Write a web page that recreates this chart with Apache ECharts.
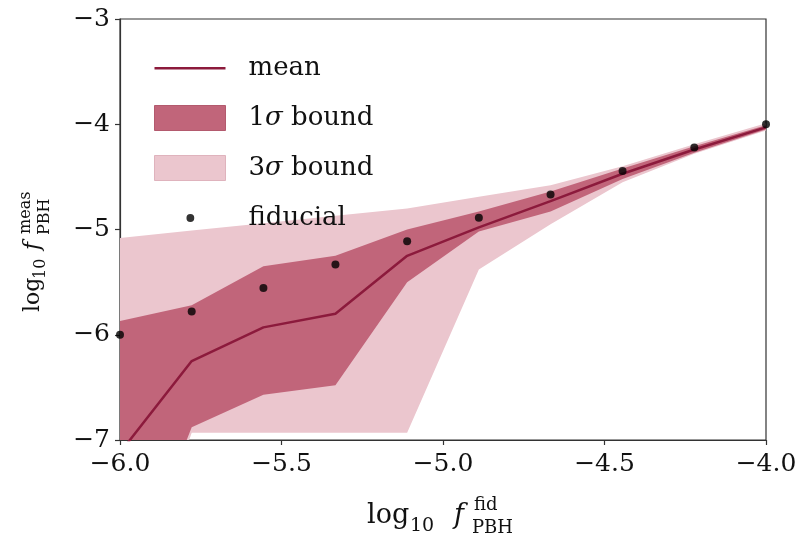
<!DOCTYPE html>
<html>
<head>
<meta charset="utf-8">
<script src="https://cdn.jsdelivr.net/npm/echarts@6/dist/echarts.min.js"></script>
<style>
  html, body { margin: 0; padding: 0; background: #fff; }
  #chart { width: 804px; height: 537px; }
</style>
</head>
<body>
<div id="chart"></div>
<script>
// fiducial log10 f_PBH values (x) and what was measured
const xFid = [-6.0, -5.778, -5.556, -5.333, -5.111, -4.889, -4.667, -4.444, -4.222, -4.0];
const yFid = [-6.0, -5.778, -5.556, -5.333, -5.111, -4.889, -4.667, -4.444, -4.222, -4.0];
const yMean = [-7.12, -6.25, -5.93, -5.80, -5.25, -4.98, -4.73, -4.47, -4.24, -4.03];
const sig1Upper = [-5.87, -5.72, -5.35, -5.25, -5.00, -4.83, -4.64, -4.42, -4.21, -4.01];
const sig1Lower = [-8.6, -6.88, -6.57, -6.48, -5.50, -5.02, -4.83, -4.52, -4.27, -4.05];
const sig3Upper = [-5.08, -5.01, -4.94, -4.87, -4.80, -4.69, -4.58, -4.40, -4.19, -3.99];
const sig3Lower = [-8.9, -6.93, -6.93, -6.93, -6.93, -5.38, -4.95, -4.55, -4.28, -4.06];

const SERIF = "'DejaVu Serif', 'Liberation Serif', serif";
const MEAN_COLOR = '#8c1a3c';
const SIG1_COLOR = '#c1657a';
const SIG3_COLOR = '#ebc6ce';

// legend icons (the corner dots keep the aspect box)
const LINE_ICON = 'path://M0,0L0.01,0ZM100,35L99.99,35ZM0,16H100V19.5H0Z';
const DOT_ICON = 'path://M0,0L0.01,0ZM100,35L99.99,35ZM45,17.5a5.5,5.5 0 1,0 11,0a5.5,5.5 0 1,0 -11,0Z';

function minus(s) {
  return String(s).replace('-', '\u2212');
}

function band(upper, lower, color) {
  return function (params, api) {
    if (params.dataIndex !== 0) return null;
    const pts = [];
    for (let i = 0; i < xFid.length; i++) pts.push(api.coord([xFid[i], upper[i]]));
    for (let i = xFid.length - 1; i >= 0; i--) pts.push(api.coord([xFid[i], lower[i]]));
    return { type: 'polygon', shape: { points: pts }, style: { fill: color } };
  };
}

function txt(text, x, y, size, italic) {
  return {
    type: 'text', x: x, y: y,
    style: {
      text: text, fontFamily: SERIF, fontSize: size,
      fontStyle: italic ? 'italic' : 'normal',
      fill: '#111', align: 'left', verticalAlign: 'middle'
    }
  };
}

const chart = echarts.init(document.getElementById('chart'));

chart.setOption({
  animation: false,
  grid: {
    left: 120, right: 38, top: 19, bottom: 97,
    show: true, borderColor: '#333', borderWidth: 1.2
  },
  legend: {
    orient: 'vertical',
    left: 149,
    top: 50,
    itemWidth: 71,
    itemHeight: 25,
    itemGap: 24,
    selectedMode: false,
    textStyle: {
      fontFamily: SERIF, fontSize: 26, color: '#111', lineHeight: 25,
      rich: {
        g: { width: 18 },
        s: { fontFamily: SERIF, fontSize: 26, fontStyle: 'italic', color: '#111' }
      }
    },
    formatter: function (name) {
      return '{g|\u00a0}' + name.replace('σ', '{s|σ}');
    },
    data: [
      { name: 'mean', icon: LINE_ICON, itemStyle: { color: MEAN_COLOR, borderWidth: 0 } },
      { name: '1σ bound', icon: 'rect', itemStyle: { color: SIG1_COLOR, borderColor: '#b35a6e', borderWidth: 1 } },
      { name: '3σ bound', icon: 'rect', itemStyle: { color: SIG3_COLOR, borderColor: '#dfb3bd', borderWidth: 1 } },
      { name: 'fiducial', icon: DOT_ICON, itemStyle: { color: '#000', borderWidth: 0 } }
    ]
  },
  xAxis: {
    type: 'value',
    min: -6, max: -4, interval: 0.5,
    axisLine: { show: true, onZero: false, lineStyle: { color: '#333', width: 1.2 } },
    axisTick: { show: true, length: 5, lineStyle: { color: '#333', width: 1.2 } },
    axisLabel: {
      margin: 12, fontFamily: SERIF, fontSize: 25, color: '#111',
      formatter: function (v) { return minus(v.toFixed(1)); }
    },
    splitLine: { show: false }
  },
  yAxis: {
    type: 'value',
    min: -7, max: -3, interval: 1,
    axisLine: { show: true, onZero: false, lineStyle: { color: '#333', width: 1.2 } },
    axisTick: { show: true, length: 5, lineStyle: { color: '#333', width: 1.2 } },
    axisLabel: {
      margin: 10, fontFamily: SERIF, fontSize: 25, color: '#111',
      formatter: function (v) { return minus(v); }
    },
    splitLine: { show: false }
  },
  graphic: [
    {
      type: 'group', x: 0, y: 0, silent: true,
      children: [
        txt('log', 367, 516, 27, false),
        txt('10', 410, 526, 19, false),
        txt('f', 454, 516, 27, true),
        txt('fid', 474, 505, 18, false),
        txt('PBH', 472, 528, 18, false)
      ]
    },
    {
      type: 'group', x: 40, y: 312, rotation: Math.PI / 2, silent: true,
      children: [
        txt('log', 0, -7, 22, false),
        txt('10', 33, 1, 16, false),
        txt('f', 62, -7, 22, true),
        txt('meas', 78, -14, 16, false),
        txt('PBH', 77, 5, 16, false)
      ]
    }
  ],
  series: [
    {
      name: '3σ bound',
      type: 'custom',
      clip: true,
      z: 1,
      itemStyle: { color: SIG3_COLOR },
      data: xFid.map((x, i) => [x, sig3Lower[i], sig3Upper[i]]),
      encode: { x: 0, y: [1, 2] },
      renderItem: band(sig3Upper, sig3Lower, SIG3_COLOR)
    },
    {
      name: '1σ bound',
      type: 'custom',
      clip: true,
      z: 2,
      itemStyle: { color: SIG1_COLOR },
      data: xFid.map((x, i) => [x, sig1Lower[i], sig1Upper[i]]),
      encode: { x: 0, y: [1, 2] },
      renderItem: band(sig1Upper, sig1Lower, SIG1_COLOR)
    },
    {
      name: 'mean',
      type: 'line',
      z: 3,
      symbol: 'none',
      clip: true,
      itemStyle: { color: MEAN_COLOR },
      lineStyle: { color: MEAN_COLOR, width: 2.5 },
      data: xFid.map((x, i) => [x, yMean[i]])
    },
    {
      name: 'fiducial',
      type: 'scatter',
      z: 4,
      symbolSize: 8,
      itemStyle: { color: '#000' },
      data: xFid.map((x, i) => [x, yFid[i]])
    }
  ]
});
</script>
</body>
</html>
